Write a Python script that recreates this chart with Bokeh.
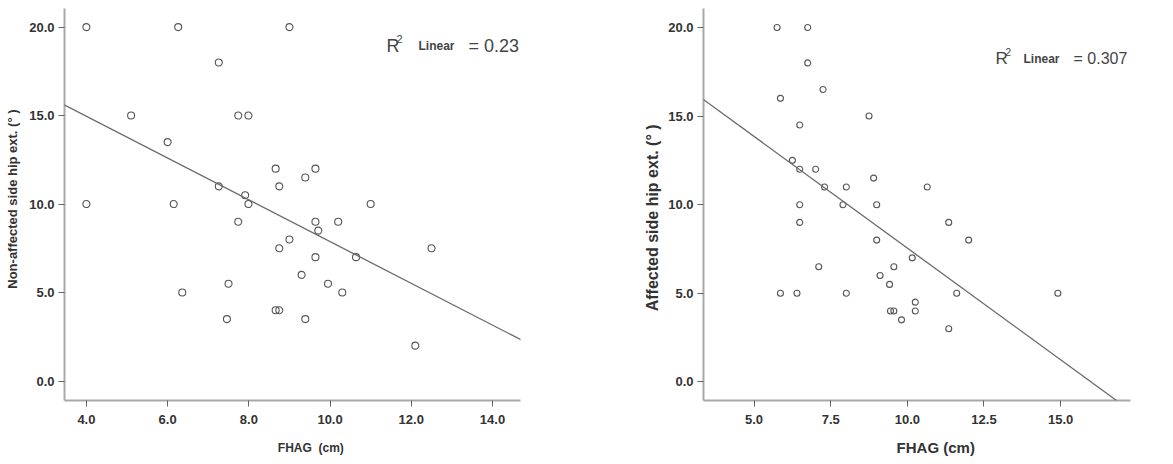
from bokeh.plotting import figure
from bokeh.layouts import row
from bokeh.models import FixedTicker, NumeralTickFormatter, Range1d, Slope, Label
from bokeh.embed import file_html
from bokeh.resources import INLINE

# ---------------- data ----------------
left_fhag = [4.0, 6.26, 9.0, 7.26, 5.1, 7.74, 7.99, 6.0, 8.66, 9.64, 9.39, 8.75, 7.26,
             7.91, 7.99, 4.0, 6.15, 11.0, 7.74, 9.64, 10.2, 9.71, 9.0, 8.75, 12.5,
             9.64, 10.64, 9.3, 7.5, 9.95, 6.36, 10.3, 8.66, 8.75, 7.46, 9.39, 12.1]
left_hip = [20, 20, 20, 18, 15, 15, 15, 13.5, 12, 12, 11.5, 11, 11,
            10.5, 10, 10, 10, 10, 9, 9, 9, 8.5, 8, 7.5, 7.5,
            7, 7, 6, 5.5, 5.5, 5, 5, 4, 4, 3.5, 3.5, 2]

right_fhag = [5.75, 6.75, 6.75, 7.25, 5.86, 8.75, 6.49, 6.25, 6.49, 7.01, 8.9, 7.3, 8.01,
              10.65, 6.49, 7.9, 9.0, 6.49, 11.35, 9.0, 12.0, 10.16, 7.11, 9.56, 9.11,
              9.42, 5.86, 6.4, 8.01, 11.61, 14.91, 10.26, 9.45, 9.56, 10.26, 9.81, 11.35]
right_hip = [20, 20, 18, 16.5, 16, 15, 14.5, 12.5, 12, 12, 11.5, 11, 11,
             11, 10, 10, 10, 9, 9, 8, 8, 7, 6.5, 6.5, 6,
             5.5, 5, 5, 5, 5, 5, 4.5, 4, 4, 4, 3.5, 3]

left_fit = {"intercept": 19.68, "slope": -1.18, "r2": "0.23"}
right_fit = {"intercept": 20.15, "slope": -1.26, "r2": "0.307"}

left_xticks = [4, 6, 8, 10, 12, 14]
right_xticks = [5, 7.5, 10, 12.5, 15]
yticks = [0, 5, 10, 15, 20]

left_xlabel = "FHAG\u00a0 (cm)"
left_ylabel = "Non-affected side hip ext. (\u00b0 )"
right_xlabel = "FHAG (cm)"
right_ylabel = "Affected side hip ext. (\u00b0 )"

FONT = "Liberation Sans"
AXIS_COL = "#a8a8a8"
TXT = "#333333"
MARK = "#555555"
RTXT = "#444444"
NB = "\u00a0"


def style(p, xticks, xlabel, ylabel, lab_x_size, lab_y_size, ylab_standoff, xlab_standoff):
    p.xaxis.ticker = FixedTicker(ticks=xticks)
    p.yaxis.ticker = FixedTicker(ticks=yticks)
    for ax in (p.xaxis[0], p.yaxis[0]):
        ax.formatter = NumeralTickFormatter(format="0.0")
        ax.axis_line_color = AXIS_COL
        ax.axis_line_width = 2
        ax.major_tick_line_color = "#666666"
        ax.major_tick_line_width = 1
        ax.major_tick_out = 6
        ax.major_tick_in = 0
        ax.minor_tick_line_color = None
        ax.major_label_text_font = FONT
        ax.major_label_text_font_style = "bold"
        ax.major_label_text_font_size = "13px"
        ax.major_label_text_color = TXT
        ax.axis_label_text_font = FONT
        ax.axis_label_text_font_style = "bold"
        ax.axis_label_text_color = TXT
    p.xaxis.axis_label = xlabel
    p.yaxis.axis_label = ylabel
    p.xaxis.axis_label_text_font_size = lab_x_size
    p.yaxis.axis_label_text_font_size = lab_y_size
    p.xaxis.major_label_standoff = 8
    p.yaxis.major_label_standoff = 4
    p.xaxis.axis_label_standoff = xlab_standoff
    p.yaxis.axis_label_standoff = ylab_standoff
    p.grid.visible = False
    p.outline_line_color = None
    p.background_fill_color = "white"
    p.border_fill_color = "white"


def r2_label(p, x_r, x_sup, x_lin, x_val, y_base, y_sup, big, sup, val_size, r2):
    common = dict(x_units="screen", y_units="screen", text_font=FONT,
                  text_color=RTXT, text_baseline="alphabetic")
    p.add_layout(Label(x=x_r, y=y_base, text="R", text_font_size=big, **common))
    p.add_layout(Label(x=x_sup, y=y_sup, text="2", text_font_size=sup, **common))
    p.add_layout(Label(x=x_lin, y=y_base, text="Linear", text_font_size="12px",
                       text_font_style="bold", **common))
    p.add_layout(Label(x=x_val, y=y_base, text="= " + r2, text_font_size=val_size, **common))


# ---------------- left ----------------
p1 = figure(width=600, height=464, output_backend="svg", toolbar_location=None,
            x_range=Range1d(3.46, 14.69), y_range=Range1d(-1.1, 21.05),
            min_border_left=64, min_border_right=80, min_border_top=2, min_border_bottom=64)
# non-breaking padding only nudges the label off-centre, as in the original
style(p1, left_xticks, NB * 11 + left_xlabel, NB * 3 + left_ylabel, "12px", "13px", 6, 14)
p1.add_layout(Slope(gradient=left_fit["slope"], y_intercept=left_fit["intercept"],
                    line_color="#6a6a6a", line_width=1.3))
p1.scatter(left_fhag, left_hip, size=7, fill_color=None, line_color=MARK, line_width=1.1)
r2_label(p1, 322, 332, 354, 404, 355, 362, "18px", "11px", "18px", left_fit["r2"])

# ---------------- right ----------------
p2 = figure(width=573, height=464, output_backend="svg", toolbar_location=None,
            x_range=Range1d(3.35, 17.28), y_range=Range1d(-1.05, 21.07),
            min_border_left=103, min_border_right=43, min_border_top=8, min_border_bottom=63)
style(p2, right_xticks, NB * 9 + right_xlabel, right_ylabel + NB * 6, "15px", "16px", 4, 12)
p2.add_layout(Slope(gradient=right_fit["slope"], y_intercept=right_fit["intercept"],
                    line_color="#6a6a6a", line_width=1.3))
p2.scatter(right_fhag, right_hip, size=6, fill_color=None, line_color=MARK, line_width=1.1)
r2_label(p2, 292, 302, 320, 370, 342, 349, "17px", "10px", "16px", right_fit["r2"])

layout = row(p1, p2)
open("out.html", "w").write(file_html(layout, INLINE))
